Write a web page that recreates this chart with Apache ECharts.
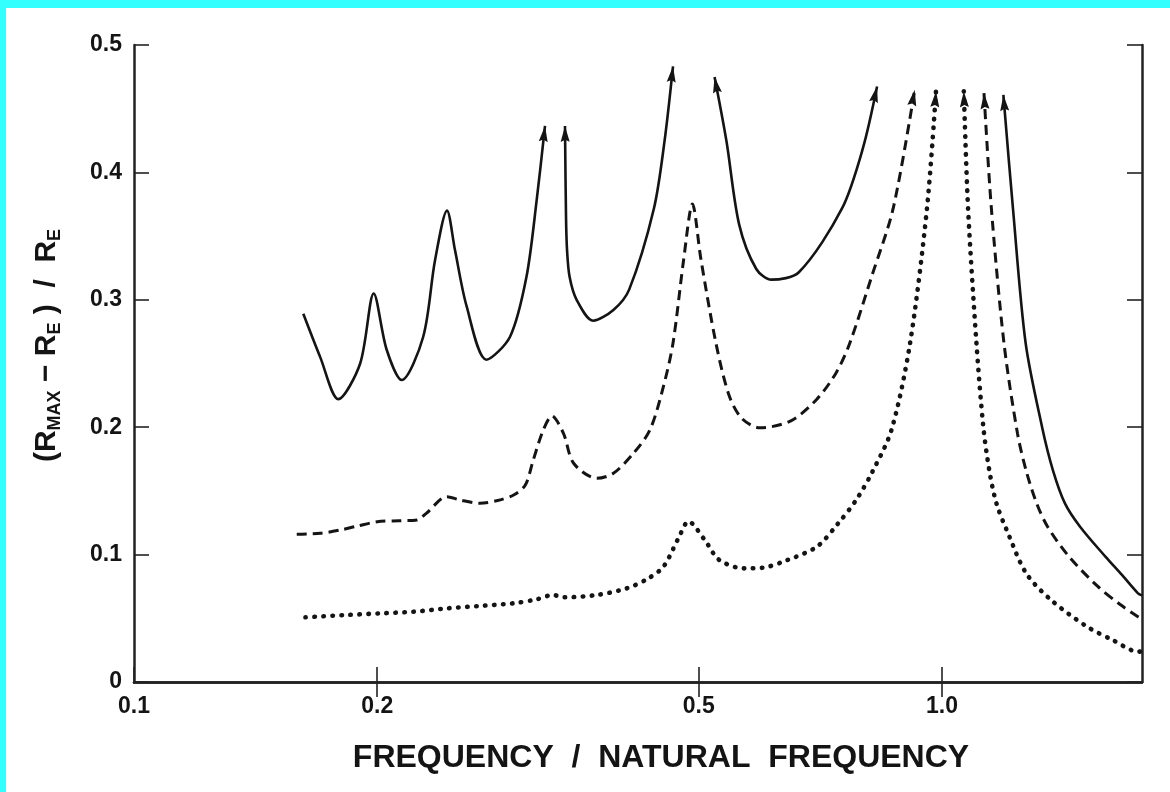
<!DOCTYPE html>
<html>
<head>
<meta charset="utf-8">
<script src="https://cdn.jsdelivr.net/npm/echarts@6/dist/echarts.min.js"></script>
<style>
html,body{margin:0;padding:0;background:#ffffff;overflow:hidden;}
#chart{position:absolute;left:0;top:0;width:1170px;height:792px;}
.cy{position:absolute;background:#33ffff;}
</style>
</head>
<body>
<div id="chart"></div>
<div class="cy" style="left:0;top:0;width:1170px;height:8px"></div>
<div class="cy" style="left:0;top:0;width:6px;height:792px"></div>
<script>
// ---- tick labels ----
const xTickValues = [0.1, 0.2, 0.5, 1.0];
const xTopTickValues = [0.2, 0.5, 1.0];
const yTickValues = [0, 0.1, 0.2, 0.3, 0.4, 0.5];

// ---- solid curve (four branches) ----
const solidA = [[0.162,0.289],[0.170,0.255],[0.179,0.222],[0.1905,0.250],[0.198,0.305],[0.2054,0.261],[0.2145,0.237],[0.228,0.271],[0.2358,0.331],[0.244,0.370],[0.2496,0.339],[0.258,0.295],[0.273,0.253],[0.292,0.271],[0.306,0.318],[0.315,0.378],[0.3226,0.4365]];
const solidB = [[0.3415,0.4365],[0.3425,0.365],[0.3435,0.339],[0.346,0.318],[0.353,0.300],[0.370,0.2836],[0.392,0.292],[0.410,0.308],[0.440,0.3717],[0.4535,0.4246],[0.4646,0.4833]];
const solidC = [[0.523,0.4749],[0.541,0.4246],[0.561,0.359],[0.589,0.3242],[0.615,0.3158],[0.665,0.3216],[0.752,0.3717],[0.798,0.4188],[0.831,0.4674]];
const solidD = [[1.191,0.4608],[1.224,0.3717],[1.269,0.2661],[1.33,0.200],[1.372,0.166],[1.420,0.140],[1.482,0.1219],[1.593,0.0984],[1.67,0.084],[1.748,0.0696],[1.768,0.068]];

// ---- dashed curve (two branches) ----
const dashedE = [[0.159,0.116],[0.170,0.1167],[0.180,0.1193],[0.189,0.1224],[0.200,0.1258],[0.213,0.1266],[0.224,0.1272],[0.230,0.1324],[0.244,0.1455],[0.253,0.1429],[0.268,0.1403],[0.281,0.1423],[0.295,0.1468],[0.305,0.1546],[0.312,0.1743],[0.321,0.1978],[0.329,0.2088],[0.340,0.1952],[0.350,0.1717],[0.374,0.1599],[0.392,0.1638],[0.415,0.1795],[0.435,0.1978],[0.452,0.2318],[0.4646,0.2661],[0.479,0.332],[0.491,0.3752],[0.503,0.332],[0.525,0.2661],[0.545,0.225],[0.565,0.207],[0.595,0.1995],[0.650,0.205],[0.700,0.222],[0.740,0.243],[0.769,0.2661],[0.819,0.319],[0.870,0.3717],[0.925,0.4648]];
const dashedF = [[1.127,0.4622],[1.151,0.3717],[1.193,0.2661],[1.240,0.195],[1.272,0.165],[1.310,0.140],[1.351,0.1219],[1.436,0.0984],[1.560,0.0748],[1.660,0.061],[1.748,0.0513],[1.768,0.050]];

// ---- dotted curve (two branches) ----
const dottedG = [[0.163,0.0508],[0.183,0.0526],[0.202,0.0539],[0.222,0.0552],[0.244,0.0578],[0.268,0.0597],[0.295,0.0618],[0.315,0.0649],[0.330,0.0683],[0.340,0.0665],[0.374,0.0683],[0.407,0.0735],[0.431,0.0806],[0.452,0.0905],[0.472,0.113],[0.4855,0.126],[0.5085,0.1115],[0.530,0.0958],[0.569,0.0892],[0.600,0.0897],[0.644,0.0958],[0.700,0.1062],[0.744,0.1246],[0.783,0.1429],[0.820,0.165],[0.866,0.198],[0.913,0.2661],[0.958,0.3717],[0.983,0.4637]];
const dottedH = [[1.064,0.4637],[1.077,0.3717],[1.103,0.2661],[1.125,0.200],[1.145,0.165],[1.168,0.140],[1.207,0.1167],[1.271,0.0853],[1.364,0.0644],[1.512,0.0434],[1.626,0.033],[1.748,0.0238],[1.768,0.024]];

const X_MIN = 0.1, X_MAX = 1.768;

const branches = [
  {data: solidA, style: 'solid', arrowStart: false, arrowEnd: true},
  {data: solidB, style: 'solid', arrowStart: true, arrowEnd: true},
  {data: solidC, style: 'solid', arrowStart: true, arrowEnd: true},
  {data: solidD, style: 'solid', arrowStart: true, arrowEnd: false},
  {data: dashedE, style: 'dashed', arrowStart: false, arrowEnd: true},
  {data: dashedF, style: 'dashed', arrowStart: true, arrowEnd: false},
  {data: dottedG, style: 'dotted', arrowStart: false, arrowEnd: true},
  {data: dottedH, style: 'dotted', arrowStart: true, arrowEnd: false}
];

const INK = '#141414';
const ARROW = 'path://M5 0 L10 18 L5 15.5 L0 18 Z';
const ARROW_SIZE = [9, 16];
const FONT = '"Liberation Sans", Arial, Helvetica, sans-serif';

const lineStyles = {
  solid: {type: 'solid', width: 2.6, color: INK},
  dashed: {type: [10, 6], width: 3, color: INK},
  dotted: {type: [0.5, 8.5], width: 4.6, cap: 'round', color: INK}
};

function buildSeries(rotations) {
  return branches.map((b, bi) => {
    const n = b.data.length;
    const data = b.data.map((p, i) => {
      const item = {value: p};
      const isArrow = (i === 0 && b.arrowStart) || (i === n - 1 && b.arrowEnd);
      if (isArrow) {
        const r = rotations && rotations[bi + '_' + i];
        item.symbol = ARROW;
        item.symbolSize = ARROW_SIZE;
        item.symbolRotate = r ? r.deg : 0;
        item.symbolOffset = r ? r.off : [0, 8];
        item.itemStyle = {color: INK};
      } else {
        item.symbol = 'none';
      }
      return item;
    });
    return {
      type: 'line',
      xAxisIndex: 0,
      yAxisIndex: 0,
      data: data,
      smooth: 0.3,
      showSymbol: true,
      symbol: 'none',
      silent: true,
      animation: false,
      clip: false,
      lineStyle: lineStyles[b.style],
      itemStyle: {color: INK}
    };
  });
}

const axisLineStyle = {color: '#222', width: 2.5};

function buildOption(rotations) {
  return {
    backgroundColor: 'transparent',
    animation: false,
    grid: {left: 134, right: 28, top: 45, bottom: 110, containLabel: false},
    xAxis: [
      {
        type: 'log', logBase: 10, min: X_MIN, max: X_MAX, position: 'bottom',
        name: 'FREQUENCY  /  NATURAL  FREQUENCY',
        nameLocation: 'middle', nameGap: 60,
        nameTextStyle: {fontFamily: FONT, fontWeight: 'bold', fontSize: 32, color: INK, padding: [0, 0, 0, 46]},
        axisLine: {show: true, lineStyle: axisLineStyle},
        axisTick: {show: true, inside: true, length: 15, lineStyle: {color: '#222', width: 1.6}, customValues: xTickValues},
        minorTick: {show: false},
        axisLabel: {show: true, margin: 13, fontFamily: FONT, fontWeight: 'bold', fontSize: 23, color: INK,
          customValues: xTickValues,
          formatter: v => (Math.abs(v - 1) < 1e-9 ? '1.0' : String(+(+v).toFixed(1)))},
        splitLine: {show: false}
      },
      {
        type: 'log', logBase: 10, min: X_MIN, max: X_MAX, position: 'top',
        axisLine: {show: true, lineStyle: axisLineStyle},
        axisTick: {show: true, inside: true, length: 15, lineStyle: {color: '#222', width: 1.6}, customValues: xTopTickValues},
        minorTick: {show: false},
        axisLabel: {show: false},
        splitLine: {show: false}
      }
    ],
    yAxis: [
      {
        type: 'value', min: 0, max: 0.5, interval: 0.1, position: 'left',
        name: '(R{s|MAX} − R{s|E} )  /  R{s|E}',
        nameLocation: 'middle', nameRotate: 90, nameGap: 70,
        nameTextStyle: {fontFamily: FONT, fontWeight: 'bold', fontSize: 30, lineHeight: 34, color: INK,
          padding: [0, 0, 0, 36],
          rich: {s: {fontFamily: FONT, fontWeight: 'bold', fontSize: 18, lineHeight: 18, verticalAlign: 'bottom', color: INK}}},
        axisLine: {show: true, lineStyle: axisLineStyle},
        axisTick: {show: true, inside: true, length: 15, lineStyle: {color: '#222', width: 1.6}},
        axisLabel: {show: true, margin: 12, fontFamily: FONT, fontWeight: 'bold', fontSize: 23, color: INK,
          formatter: v => (v === 0 ? '0' : (+v).toFixed(1))},
        splitLine: {show: false}
      },
      {
        type: 'value', min: 0, max: 0.5, interval: 0.1, position: 'right',
        axisLine: {show: true, lineStyle: axisLineStyle},
        axisTick: {show: true, inside: true, length: 15, lineStyle: {color: '#222', width: 1.6}},
        axisLabel: {show: false},
        splitLine: {show: false}
      }
    ],
    series: buildSeries(rotations)
  };
}

const chart = echarts.init(document.getElementById('chart'), null, {renderer: 'canvas'});
chart.setOption(buildOption(null));

// arrow directions from the library's own pixel conversion
const rotations = {};
branches.forEach((b, bi) => {
  const n = b.data.length;
  const handle = (tipIdx, nbIdx) => {
    const tip = chart.convertToPixel({xAxisIndex: 0, yAxisIndex: 0}, b.data[tipIdx]);
    const nb = chart.convertToPixel({xAxisIndex: 0, yAxisIndex: 0}, b.data[nbIdx]);
    const dx = tip[0] - nb[0], dy = tip[1] - nb[1];
    const len = Math.hypot(dx, dy) || 1;
    const ux = dx / len, uy = dy / len;
    const deg = Math.atan2(-dx, -dy) * 180 / Math.PI;
    const half = ARROW_SIZE[1] / 2;
    rotations[bi + '_' + tipIdx] = {deg: deg, off: [-ux * half, -uy * half]};
  };
  if (b.arrowStart) handle(0, 1);
  if (b.arrowEnd) handle(n - 1, n - 2);
});
chart.setOption(buildOption(rotations), true);
</script>
</body>
</html>
